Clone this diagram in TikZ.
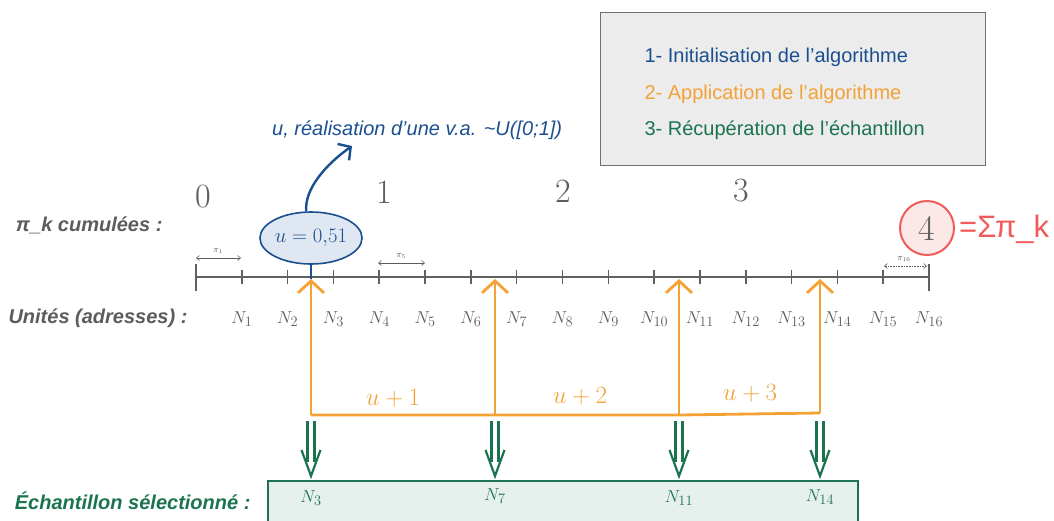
\documentclass[tikz,border=0pt]{standalone}
\usepackage{fontspec}
\setmainfont{Liberation Sans}
\newfontfamily\digitfont{Latin Modern Roman}
\usetikzlibrary{arrows.meta,shapes.geometric}
\definecolor{tgray}{HTML}{5C5C5C}
\definecolor{axgray}{HTML}{606060}
\definecolor{lblue}{HTML}{1B4F8F}
\definecolor{bluefill}{HTML}{DFE8F2}
\definecolor{lorange}{HTML}{F4A236}
\definecolor{lgreen}{HTML}{1B7350}
\definecolor{greenfill}{HTML}{E6F0EC}
\definecolor{lred}{HTML}{F05A5A}
\definecolor{redfill}{HTML}{FDE8E8}
\definecolor{boxgray}{HTML}{707070}
\definecolor{boxfill}{HTML}{ECECEC}
\tikzset{
  legendtxt/.style={anchor=west, font=\fontsize{20}{22}\selectfont},
  sidelbl/.style={anchor=east, font=\fontsize{20}{22}\selectfont\bfseries\itshape, text=tgray},
  unitlbl/.style={font=\fontsize{19}{21}\selectfont, text=tgray},
  cumlbl/.style={font=\digitfont\fontsize{34}{36}\selectfont, text=tgray},
  axisline/.style={draw=axgray, line width=1.6pt},
  orarrow/.style={draw=lorange, line width=2.8pt, -{Straight Barb[length=12pt,width=26pt,line width=2.8pt]}},
  orline/.style={draw=lorange, line width=2.8pt},
  grline/.style={draw=lgreen, line width=2.2pt},
  piarrow/.style={draw=tgray, line width=0.6pt, {Straight Barb[length=3pt,width=5pt]}-{Straight Barb[length=3pt,width=5pt]}},
  pilbl/.style={font=\fontsize{9}{10}\selectfont, text=tgray, inner sep=1pt},
}
\begin{document}
\begin{tikzpicture}[x=1pt,y=-1pt]
\useasboundingbox (0,0) rectangle (1054,520);

% legend
\node[draw=boxgray, fill=boxfill, line width=1pt, minimum width=385pt, minimum height=153pt, anchor=north west, inner sep=0pt] (legend) at (600,12) {};
\node[legendtxt, text=lblue] (l1) at (641,57) {1- Initialisation de l’algorithme};
\node[legendtxt, text=lorange] (l2) at (641,94) {2- Application de l’algorithme};
\node[legendtxt, text=lgreen] (l3) at (641,130) {3- Récupération de l’échantillon};

% side labels
\node[sidelbl] (cumtitle) at (166,225) {π\_k cumulées :};
\node[sidelbl] (unittitle) at (191,318) {Unités (adresses) :};
\node[sidelbl, text=lgreen] (echtitle) at (254,501) {Échantillon sélectionné :};

% axis
\coordinate (a0) at (196,277);
\coordinate (a16) at (929,277);
\draw[axisline] (a0) -- (a16);
\foreach \i in {1,...,15}{
  \draw[axisline] (196+45.8125*\i,270) -- (196+45.8125*\i,284);
}
\draw[axisline] (196,264) -- (196,291);
\draw[axisline] (929,264) -- (929,291);
\foreach \i in {1,...,16}{
  \node[unitlbl] (n\i) at (196+45.8125*\i,319) {$N_{\i}$};
}

% small pi arrows
\draw[piarrow] (196,258) -- (241,258);
\node[pilbl] (p1) at (218,251) {$\pi_1$};
\draw[piarrow] (378,263) -- (425,263);
\node[pilbl] (p5) at (401,256) {$\pi_5$};
\draw[piarrow, densely dotted] (884,266) -- (927,266);
\node[pilbl] (p16) at (904,259) {$\pi_{16}$};

% cumulative numbers
\node[cumlbl] (c0) at (203,197) {0};
\node[cumlbl] (c1) at (384,192) {1};
\node[cumlbl] (c2) at (563,191) {2};
\node[cumlbl] (c3) at (741,191) {3};
\node[circle, draw=lred, fill=redfill, line width=2pt, minimum size=54pt, inner sep=0pt, font=\digitfont\fontsize{36}{38}\selectfont, text=tgray] (c4) at (927,228) {4};
\node[anchor=west, text=lred, font=\fontsize{31}{33}\selectfont, inner sep=0pt] (sum) at (959,229) {=Σπ\_k};

% orange arrows
\coordinate (b1) at (311,415);
\coordinate (b2) at (495,415);
\coordinate (b3) at (679,415);
\coordinate (b4) at (820,413);
\coordinate (t1) at (311,279);
\coordinate (t2) at (495,279);
\coordinate (t3) at (679,279);
\coordinate (t4) at (820,279);
\draw[orline] (b1) -- (b2) -- (b3) -- (b4);
\foreach \k in {1,...,4}{ \draw[orarrow] (b\k) -- (t\k); }
\node[text=lorange, font=\fontsize{24}{26}\selectfont] (up1) at (393,398) {$u+1$};
\node[text=lorange, font=\fontsize{24}{26}\selectfont] (up2) at (580,396) {$u+2$};
\node[text=lorange, font=\fontsize{24}{26}\selectfont] (up3) at (750,393) {$u+3$};

% u ellipse and blue arrow
\node[ellipse, draw=lblue, fill=bluefill, line width=1.6pt, minimum width=96pt, minimum height=52pt, inner sep=0pt, text=lblue, font=\fontsize{22}{24}\selectfont] (u) at (311,238) {$u=0{,}51$};
\draw[draw=lblue, line width=2pt] (u.south) -- (t1);
\node[text=lblue, font=\fontsize{20}{22}\selectfont\itshape, anchor=west, inner sep=0pt] (utxt) at (272,130) {u, réalisation d’une v.a. \textasciitilde U([0;1])};
\coordinate (uarr) at (352,146);
\draw[draw=lblue, line width=2.4pt, -{Straight Barb[length=9pt,width=20pt,line width=2.4pt]}] (u.100) .. controls (304,190) and (325,165) .. (uarr);

% green box and arrows
\fill[greenfill] (268,481) rectangle (858,525);
\draw[draw=lgreen, line width=2.2pt] (268,525) -- (268,481) -- (858,481) -- (858,525);
\node[coordinate] (sample) at (563,481) {};
\foreach \x/\nm in {311/g1,495/g2,679/g3,820/g4}{
  \coordinate (\nm top) at (\x,421);
  \coordinate (\nm tip) at (\x,476);
  \draw[grline] (\x-3.5,421) -- (\x-3.5,462);
  \draw[grline] (\x+3.5,421) -- (\x+3.5,462);
  \draw[grline, line join=miter] (\x-9.5,450) -- (\nm tip) -- (\x+9.5,450);
}
\node[text=lgreen, font=\fontsize{19}{21}\selectfont] (s3) at (311,498) {$N_{3}$};
\node[text=lgreen, font=\fontsize{19}{21}\selectfont] (s7) at (495,496) {$N_{7}$};
\node[text=lgreen, font=\fontsize{19}{21}\selectfont] (s11) at (679,498) {$N_{11}$};
\node[text=lgreen, font=\fontsize{19}{21}\selectfont] (s14) at (820,497) {$N_{14}$};
\end{tikzpicture}
\end{document}
